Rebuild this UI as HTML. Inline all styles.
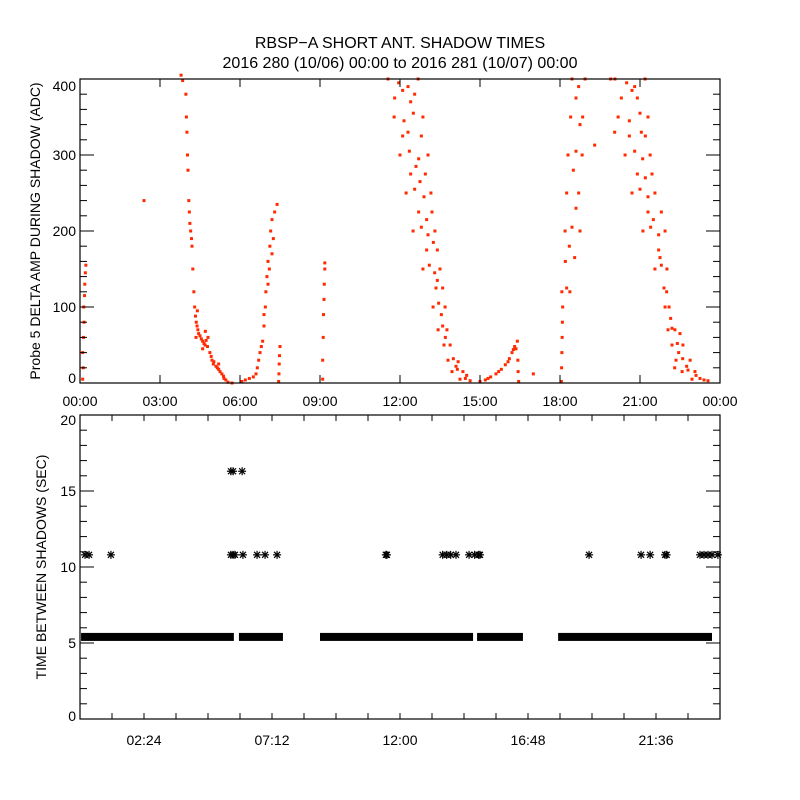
<!DOCTYPE html>
<html><head><meta charset="utf-8"><style>
html,body{margin:0;padding:0;background:#fff;}
svg{display:block;font-family:"Liberation Sans",sans-serif;}
</style></head><body>
<svg id="c" width="800" height="800" viewBox="0 0 800 800">
<rect width="800" height="800" fill="#fff"/>
<text x="400" y="48" font-size="16" text-anchor="middle">RBSP−A SHORT ANT. SHADOW TIMES</text>
<text x="400" y="68" font-size="16" text-anchor="middle">2016 280 (10/06) 00:00 to 2016 281 (10/07) 00:00</text>
<g id="topPanel"></g>
<g id="botPanel"></g>
</svg>
<script>
// ---- top panel data: [hour, ADC value]
const ampTrackA = [[0.1,5],[0.12,20],[0.1,40],[0.13,60],[0.15,80],[0.14,100],[0.17,115],[0.18,130],[0.2,145],[0.22,155]];
const ampTrackB = [[3.79,405],[3.85,398],[3.97,380],[3.99,350],[4.01,330],[4.03,300],[4.05,280],[4.08,240],[4.1,225],[4.12,210],[4.15,200],[4.18,190],[4.2,180],[4.23,150],[4.27,120],[4.3,100],[4.33,88],[4.36,80],[4.39,75],[4.42,70],[4.45,65],[4.5,62],[4.55,58],[4.6,55],[4.65,52],[4.69,50],[4.73,56],[4.78,48],[4.8,60],[4.87,40],[4.92,35],[4.95,30],[5.02,28],[5.1,22],[5.15,20],[5.2,18],[5.25,15],[5.32,12],[5.38,9],[5.4,6],[5.47,4],[5.55,1],[5.7,0],[4.4,95],[4.35,60],[4.6,45],[4.7,68],[5.0,25],[5.2,25]];
const ampTrackC = [[6.07,2],[6.2,4],[6.35,6],[6.5,8],[6.6,12],[6.65,20],[6.7,30],[6.75,40],[6.8,48],[6.85,55],[6.9,75],[6.95,100],[6.97,120],[7.01,140],[7.05,160],[7.12,180],[7.15,200],[7.2,215],[7.3,225],[7.39,235],[7.1,150],[7.2,170],[7.25,190],[6.9,90],[7.05,130],[7.45,2],[7.46,12],[7.47,25],[7.48,36],[7.5,48]];
const ampTrackD = [[9.1,5],[9.1,30],[9.12,60],[9.13,90],[9.15,110],[9.16,130],[9.18,150],[9.18,158]];
const ampTrackE = [[11.55,400],[11.95,395],[12.3,390],[12.68,400],[11.78,350],[12.15,345],[12.5,355],[12.86,350],[12.0,300],[12.35,305],[12.7,295],[13.05,300],[12.23,250],[12.55,255],[12.9,245],[13.16,250],[12.49,200],[12.8,205],[13.05,195],[13.31,200],[12.86,150],[13.1,155],[13.3,145],[13.5,150],[13.24,100],[13.45,105],[13.69,100],[13.43,70],[13.6,75],[13.76,70],[13.65,50],[13.88,50],[13.8,30],[14.0,32],[14.18,28],[13.95,15],[14.15,18],[14.36,15],[14.25,5],[14.45,6],[14.63,3],[11.8,375],[12.4,370],[12.1,325],[12.8,325],[12.4,275],[12.95,275],[12.7,225],[13.2,225],[13.0,175],[13.4,175],[13.35,125],[13.6,125],[12.1,385],[12.55,380],[12.3,330],[12.6,285],[12.75,265],[13.0,215],[13.25,185],[13.4,135],[13.55,90],[13.7,60],[14.1,22],[14.5,10]];
const ampTrackF = [[15.0,2],[15.2,4],[15.4,8],[15.6,12],[15.8,18],[15.95,24],[16.1,32],[16.2,40],[16.3,48],[16.4,55],[16.35,45],[16.42,30],[16.43,15],[16.45,2],[17.0,12],[15.3,6],[15.7,15],[16.05,28],[16.25,44]];
const ampTrackG = [[18.05,2],[18.06,20],[18.07,40],[18.08,60],[18.09,80],[18.1,100],[18.07,120],[18.25,125],[18.37,120],[18.19,200],[18.45,205],[18.75,200],[18.3,300],[18.6,305],[18.83,300],[18.45,400],[18.7,390],[18.94,400],[18.2,160],[18.55,165],[18.25,250],[18.7,250],[18.4,350],[18.85,350],[19.3,313],[18.35,180],[18.6,230],[18.5,280],[18.75,340],[18.6,375]];
const ampTrackH = [[20.06,400],[20.5,395],[20.8,390],[21.19,400],[20.18,350],[20.6,345],[21.0,355],[21.3,350],[20.44,300],[20.8,305],[21.1,295],[21.38,300],[20.7,250],[21.0,255],[21.3,245],[21.56,250],[21.11,200],[21.4,205],[21.7,195],[21.94,200],[21.56,150],[21.8,155],[22.01,150],[21.94,100],[22.09,100],[22.05,70],[22.2,72],[22.31,70],[22.2,50],[22.4,52],[22.61,50],[22.35,30],[22.6,32],[22.88,30],[22.58,15],[22.8,17],[23.06,15],[22.95,5],[23.25,6],[23.55,3],[20.3,375],[20.9,375],[20.6,325],[21.2,325],[20.9,275],[21.45,275],[21.3,225],[21.8,225],[21.7,175],[21.9,125],[22.5,65],[19.9,400],[20.05,330],[22.3,20],[20.7,385],[21.05,330],[21.2,270],[21.5,215],[21.75,165],[22.0,120],[22.15,85],[22.45,40],[22.75,22],[23.1,10],[23.4,4]];
const ampTracks = [ampTrackA, ampTrackB, ampTrackC, ampTrackD, ampTrackE, ampTrackF, ampTrackG, ampTrackH, [[2.4,240]]];
const topYTicks = [0,100,200,300,400];
const topXLabels = ["00:00","03:00","06:00","09:00","12:00","15:00","18:00","21:00","00:00"];

// ---- bottom panel data
const bandValue = 5.4;
const bandSegments = [[0.04,5.77],[5.96,7.61],[9.0,14.74],[14.89,16.61],[17.93,23.7]];
const gap108Hours = [0.19,0.34,1.16,5.66,5.74,5.81,6.11,6.64,6.94,7.39,11.47,11.51,13.6,13.75,13.9,14.1,14.59,14.8,14.95,15.0,19.09,21.04,21.38,21.94,22.0,23.25,23.4,23.55,23.7,23.92];
const gap108Value = 10.8;
const gap163Hours = [5.66,5.74,6.08];
const gap163Value = 16.3;
const botYTicks = [0,5,10,15,20];
const botXLabels = ["02:24","07:12","12:00","16:48","21:36"];
const botXLabelHours = [2.4,7.2,12.0,16.8,21.6];

const NS="http://www.w3.org/2000/svg";
function mk(p,t,a){const e=document.createElementNS(NS,t);for(const k in a)e.setAttribute(k,a[k]);p.appendChild(e);return e;}
const L=80,R=720;
const xh=h=>L+(R-L)*h/24;
// top axes
const tT=79,tB=383;
const yT=v=>tB-(tB-tT)*v/400;
const topG=document.getElementById('topPanel');
ampTracks.forEach(tr=>tr.forEach(p=>{
  const d=mk(topG,'rect',{x:xh(p[0])-1.5,y:yT(p[1])-1.5,width:3,height:3,fill:'#ff2a00'});
  
  
}));
const f1=mk(topG,'rect',{x:L,y:tT,width:R-L,height:tB-tT,fill:'none',stroke:'#000','stroke-width':1.2});


for(let v=0;v<=400;v+=20){const len=(v%100===0)?14:7;const y=yT(v);
  mk(topG,'line',{x1:L,x2:L+len,y1:y,y2:y,stroke:'#000'});mk(topG,'line',{x1:R,x2:R-len,y1:y,y2:y,stroke:'#000'});}
topYTicks.forEach(v=>{let y=yT(v)+5;if(v===400)y=yT(v)+12;if(v===0)y=yT(v);
  const t=mk(topG,'text',{x:L-4,y:y,'font-size':14,'text-anchor':'end'});t.textContent=v;
  
  });
topXLabels.forEach((s,i)=>{const x=xh(i*3);
  mk(topG,'line',{x1:x,x2:x,y1:tB,y2:tB-8,stroke:'#000'});mk(topG,'line',{x1:x,x2:x,y1:tT,y2:tT+8,stroke:'#000'});
  const t=mk(topG,'text',{x:x,y:406,'font-size':14,'text-anchor':'middle'});t.textContent=s;
  
  });
const yl=mk(topG,'text',{x:0,y:0,'font-size':14,'text-anchor':'middle',transform:'translate(40,231) rotate(-90)'});
yl.textContent='Probe 5 DELTA AMP DURING SHADOW (ADC)';



// bottom axes
const bT=415,bB=719;
const yB=v=>bB-(bB-bT)*v/20;
const botG=document.getElementById('botPanel');
bandSegments.forEach(s=>{
  const r=mk(botG,'rect',{x:xh(s[0]),y:yB(bandValue)-4,width:xh(s[1])-xh(s[0]),height:8,fill:'#000'});
  
  });
function star(h,v){const x=xh(h),y=yB(v);const g=mk(botG,'g',{stroke:'#000','stroke-width':1.2});
  
  
  mk(g,'line',{x1:x-4,x2:x+4,y1:y,y2:y});mk(g,'line',{x1:x,x2:x,y1:y-4,y2:y+4});
  mk(g,'line',{x1:x-3,x2:x+3,y1:y-3,y2:y+3});mk(g,'line',{x1:x-3,x2:x+3,y1:y+3,y2:y-3});}
gap108Hours.forEach(h=>star(h,gap108Value));
gap163Hours.forEach(h=>star(h,gap163Value));
const f2=mk(botG,'rect',{x:L,y:bT,width:R-L,height:bB-bT,fill:'none',stroke:'#000','stroke-width':1.2});


for(let v=0;v<=20;v++){const len=(v%5===0)?14:7;const y=yB(v);
  mk(botG,'line',{x1:L,x2:L+len,y1:y,y2:y,stroke:'#000'});mk(botG,'line',{x1:R,x2:R-len,y1:y,y2:y,stroke:'#000'});}
botYTicks.forEach(v=>{let y=yB(v)+5;if(v===20)y=yB(v)+10;if(v===0)y=yB(v)+2;
  const t=mk(botG,'text',{x:L-4,y:y,'font-size':14,'text-anchor':'end'});t.textContent=v;
  
  });
for(let h=0;h<=24.01;h+=1.2){const x=xh(h);
  mk(botG,'line',{x1:x,x2:x,y1:bB,y2:bB-6,stroke:'#000'});mk(botG,'line',{x1:x,x2:x,y1:bT,y2:bT+6,stroke:'#000'});}
botXLabels.forEach((s,i)=>{const t=mk(botG,'text',{x:xh(botXLabelHours[i]),y:745,'font-size':14,'text-anchor':'middle'});t.textContent=s;
  
  });
const yl2=mk(botG,'text',{x:0,y:0,'font-size':14,'text-anchor':'middle',transform:'translate(46,567) rotate(-90)'});
yl2.textContent='TIME BETWEEN SHADOWS (SEC)';


</script>
</body></html>
